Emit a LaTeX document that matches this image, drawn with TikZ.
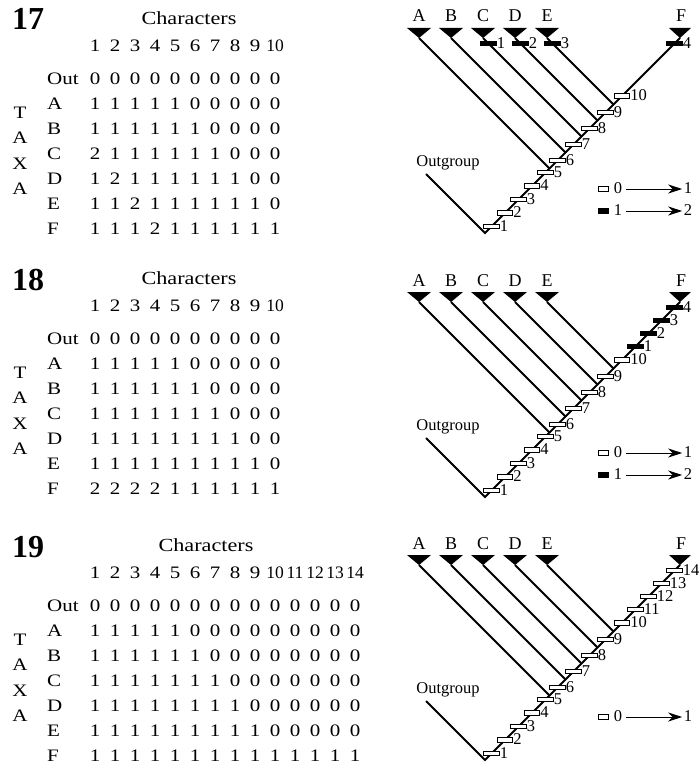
\documentclass[tikz,border=0pt]{standalone}
\usepackage{fontspec}
\setmainfont{Liberation Serif}
\newfontfamily\tblfont[FakeStretch=1.2]{Liberation Serif}
\usetikzlibrary{arrows.meta}
\tikzset{
  wbox/.style={draw=black, fill=white, line width=1.1pt, minimum width=15.3pt, minimum height=4.7pt, inner sep=0pt, outer sep=0pt},
  bbox/.style={wbox, fill=black},
  lgbox/.style={wbox, minimum width=10pt, minimum height=5pt},
  lgbbox/.style={lgbox, fill=black},
  num/.style={font=\fontsize{16.5}{16.5}\selectfont, inner sep=0.5pt, text height=9.5pt, text depth=0pt, anchor=west},
  lgnum/.style={num, anchor=center, inner sep=0pt},
  taxlab/.style={font=\fontsize{18}{18}\selectfont, inner sep=0pt, text height=12pt, text depth=0pt},
  oglab/.style={font=\fontsize{16.5}{16.5}\selectfont, inner sep=0pt},
  branch/.style={line width=2pt, line join=miter},
  tri/.style={fill=black},
  tbl/.style={font=\tblfont\fontsize{17.5}{17.5}\selectfont, inner sep=0pt, text height=11pt, text depth=0pt},
  hdr/.style={font=\fontsize{17.5}{17.5}\selectfont, inner sep=0pt, text height=11pt, text depth=0pt},
  rowlab/.style={tbl, anchor=west},
  chars/.style={font=\tblfont\fontsize{18.5}{18.5}\selectfont, inner sep=0pt, text height=13pt, text depth=0pt},
  pnum/.style={font=\fontsize{32}{32}\selectfont\bfseries, inner sep=0pt, text height=22pt, text depth=0pt, anchor=west},
  lgarrow/.style={-{Stealth[length=14pt,width=9pt]}, line width=0.9pt, shorten <=4pt, shorten >=1.5pt}
}
% ---------- tree common part ----------
\newcommand\drawtree[2]{%
\begin{scope}[shift={(0,#2)}]
  \coordinate (R#1) at (485,233);
  \coordinate (O#1) at (426,174);
  \coordinate (tF#1) at (680,38);
  \draw[branch] (O#1) -- (R#1) -- (tF#1);
  \fill[tri] (tF#1) -- ++(-11,-10) -- ++(22,0) -- cycle;
  \node[taxlab] (nF#1) at (681,16) {F};
  \foreach \L/\x in {A/419,B/451,C/483,D/515,E/547} {
    \coordinate (t\L#1) at (\x,38);
    \coordinate (j\L#1) at ({(680+\x)/2},{38+(680-\x)/2});
    \draw[branch] (t\L#1) -- (j\L#1);
    \fill[tri] (t\L#1) -- ++(-12,-10) -- ++(24,0) -- cycle;
    \node[taxlab] (n\L#1) at (\x,16) {\L};
  }
  \node[oglab] (og#1) at (448,163) {Outgroup};
  \foreach \n/\y in {1/226.5,2/213,3/199.5,4/186,5/172.5,6/160.5,7/144.5,8/128.5,9/112.5,10/96} {
    \node[wbox] (w\n-#1) at ({718-\y},\y) {};
    \node[num] (wl\n-#1) at (w\n-#1.east) {\n};
  }
\end{scope}}
% ---------- legend row ----------
\newcommand\legendrow[5]{% #1 id, #2 y, #3 box style, #4 from, #5 to
  \node[#3] (lb#1) at (603.5,#2) {};
  \node[lgnum] (lf#1) at (618,#2) {#4};
  \node[lgnum] (lt#1) at (688,#2) {#5};
  \draw[lgarrow] (lf#1.east) -- (lt#1.west);
}
% ---------- table ----------
\newcommand\drawtable[5]{% #1 id, #2 offset, #3 ncols, #4 characters x, #5 rows
\begin{scope}[shift={(0,#2)}]
  \node[pnum] (p#1) at (12,19) {#1};
  \node[chars] (ch#1) at (#4,18) {Characters};
  \foreach \c in {1,...,#3} {
    \ifnum\c<10
      \node[tbl] (h#1-\c) at ({95+20*(\c-1)},46) {\c};
    \else
      \node[hdr] (h#1-\c) at ({95+20*(\c-1)},46) {\c};
    \fi
  }
  \foreach \lab/\vals [count=\r from 0] in {#5} {
    \node[rowlab] (rl#1-\r) at (47,{79+25*\r}) {\lab};
    \foreach \v [count=\c] in \vals {
      \node[tbl] (v#1-\r-\c) at ({95+20*(\c-1)},{79+25*\r}) {\v};
    }
  }
  \foreach \T/\y [count=\k] in {T/113,A/138,X/164,A/189} {
    \node[tbl] (tx#1-\k) at (20,\y) {\T};
  }
\end{scope}}

\begin{document}
\begin{tikzpicture}[x=1pt,y=-1pt]
\useasboundingbox (0,0) rectangle (700,765);
\fill[white] (0,0) rectangle (700,765);

% ================= 17 =================
\drawtable{17}{0}{10}{189}{Out/{0,0,0,0,0,0,0,0,0,0},A/{1,1,1,1,1,0,0,0,0,0},B/{1,1,1,1,1,1,0,0,0,0},C/{2,1,1,1,1,1,1,0,0,0},D/{1,2,1,1,1,1,1,1,0,0},E/{1,1,2,1,1,1,1,1,1,0},F/{1,1,1,2,1,1,1,1,1,1}}
\drawtree{17}{0}
\foreach \n/\x in {1/488.5,2/520.5,3/552.5,4/674.5} {
  \node[bbox] (k\n-17) at (\x,43.5) {};
  \node[num] (kl\n-17) at (k\n-17.east) {\n};
}
\legendrow{a17}{189}{lgbox}{0}{1}
\legendrow{b17}{211}{lgbbox}{1}{2}

% ================= 18 =================
\drawtable{18}{260}{10}{189}{Out/{0,0,0,0,0,0,0,0,0,0},A/{1,1,1,1,1,0,0,0,0,0},B/{1,1,1,1,1,1,0,0,0,0},C/{1,1,1,1,1,1,1,0,0,0},D/{1,1,1,1,1,1,1,1,0,0},E/{1,1,1,1,1,1,1,1,1,0},F/{2,2,2,2,1,1,1,1,1,1}}
\drawtree{18}{264}
\begin{scope}[shift={(0,264)}]
\foreach \n/\y in {1/82.5,2/69.5,3/56.5,4/43.5} {
  \node[bbox] (k\n-18) at ({718-\y},\y) {};
  \node[num] (kl\n-18) at (k\n-18.east) {\n};
}
\legendrow{a18}{189}{lgbox}{0}{1}
\legendrow{b18}{211}{lgbbox}{1}{2}
\end{scope}

% ================= 19 =================
\drawtable{19}{527}{14}{206}{Out/{0,0,0,0,0,0,0,0,0,0,0,0,0,0},A/{1,1,1,1,1,0,0,0,0,0,0,0,0,0},B/{1,1,1,1,1,1,0,0,0,0,0,0,0,0},C/{1,1,1,1,1,1,1,0,0,0,0,0,0,0},D/{1,1,1,1,1,1,1,1,0,0,0,0,0,0},E/{1,1,1,1,1,1,1,1,1,0,0,0,0,0},F/{1,1,1,1,1,1,1,1,1,1,1,1,1,1}}
\drawtree{19}{527}
\begin{scope}[shift={(0,527)}]
\foreach \n/\y in {11/82.5,12/69.5,13/56.5,14/43.5} {
  \node[wbox] (w\n-19) at ({718-\y},\y) {};
  \node[num] (wl\n-19) at (w\n-19.east) {\n};
}
\legendrow{a19}{190}{lgbox}{0}{1}
\end{scope}
\end{tikzpicture}
\end{document}
